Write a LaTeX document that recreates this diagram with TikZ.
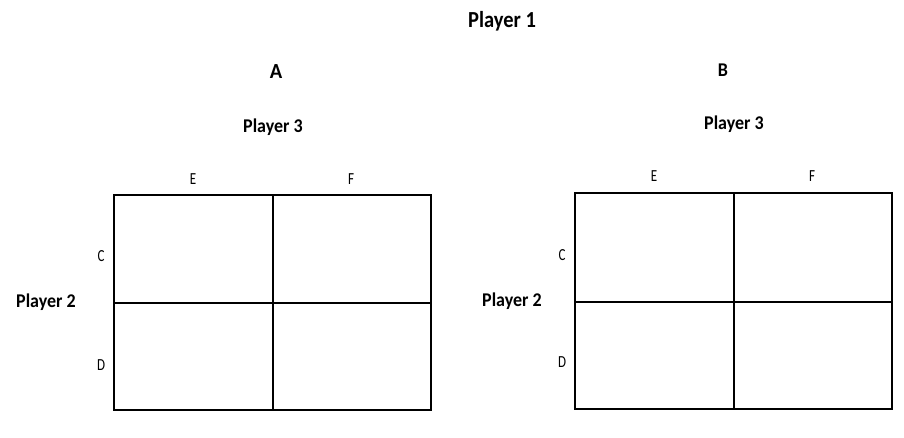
\documentclass[tikz,border=0pt]{standalone}
\usepackage{fontspec}
\setmainfont{Carlito}

\begin{document}
\begin{tikzpicture}[x=1pt,y=-1pt,
  big/.style={font=\fontsize{18}{20}\selectfont\bfseries},
  huge/.style={font=\fontsize{20.5}{22}\selectfont\bfseries},
  small/.style={font=\fontsize{13}{15}\selectfont}]
  \useasboundingbox (0,0) rectangle (904,438);

  \node[huge] (p1) at (502,21) {\scalebox{1}[1.12]{Player 1}};

  % left table
  \coordinate (a1) at (114,195);
  \coordinate (a2) at (431,410);
  \node[huge] (A) at (276,72) {\scalebox{1}[1.05]{A}};
  \node[big] (a3) at (273,127) {\scalebox{1}[1.08]{Player 3}};
  \node[small] (aE) at (193,179) {\scalebox{1}[1.3]{E}};
  \node[small] (aF) at (351,179) {\scalebox{1}[1.3]{F}};
  \node[small] (aC) at (101,256) {\scalebox{1}[1.3]{C}};
  \node[small] (aD) at (101,365) {\scalebox{1}[1.3]{D}};
  \node[big] (a2p) at (46,302) {\scalebox{1}[1.08]{Player 2}};
  \draw[line width=1.4pt] (a1) rectangle (a2);
  \draw[line width=1.4pt] (273,195) -- (273,410);
  \draw[line width=1.4pt] (114,303) -- (431,303);

  % right table
  \coordinate (b1) at (575,193);
  \coordinate (b2) at (892,409);
  \node[big] (B) at (723,70) {\scalebox{1}[1.08]{B}};
  \node[big] (b3) at (734,124) {\scalebox{1}[1.08]{Player 3}};
  \node[small] (bE) at (654,176) {\scalebox{1}[1.3]{E}};
  \node[small] (bF) at (812,176) {\scalebox{1}[1.3]{F}};
  \node[small] (bC) at (562,255) {\scalebox{1}[1.3]{C}};
  \node[small] (bD) at (562,362) {\scalebox{1}[1.3]{D}};
  \node[big] (b2p) at (512,301) {\scalebox{1}[1.08]{Player 2}};
  \draw[line width=1.4pt] (b1) rectangle (b2);
  \draw[line width=1.4pt] (734,193) -- (734,409);
  \draw[line width=1.4pt] (575,302) -- (892,302);
\end{tikzpicture}
\end{document}
